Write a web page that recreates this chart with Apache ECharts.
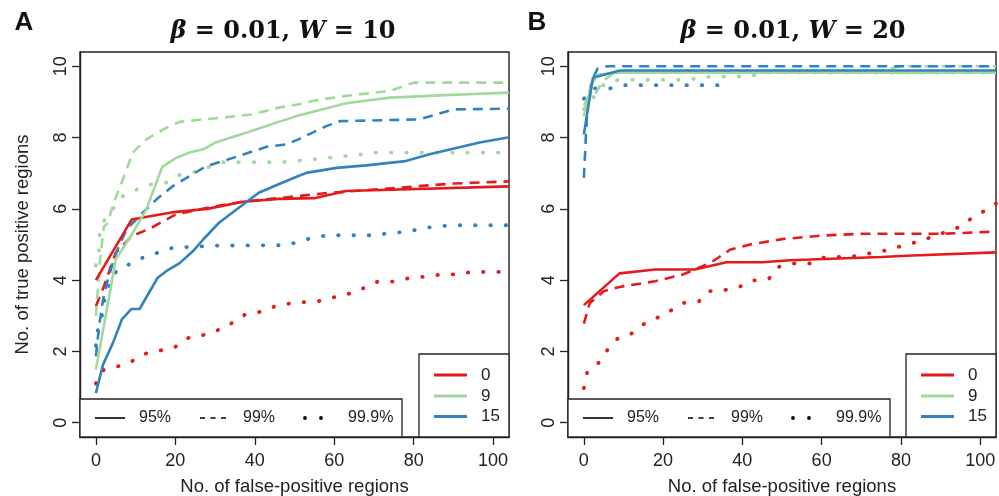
<!DOCTYPE html>
<html><head><meta charset="utf-8">
<script src="https://cdn.jsdelivr.net/npm/echarts@6/dist/echarts.min.js"></script>
<style>html,body{margin:0;padding:0;background:#fff}#c{width:999px;height:496px}</style>
</head><body><div id="c"></div>
<script>
// ---- data (x = No. of false-positive regions, y = No. of true positive regions)
const xTicks = [0, 20, 40, 60, 80, 100];
const yTicks = [0, 2, 4, 6, 8, 10];
const groups = ['0', '9', '15'];
const levels = ['95%', '99%', '99.9%'];
const titles = ['β = 0.01, W = 10', 'β = 0.01, W = 20'];

// Panel A
const A_red_95 = [[0,4.0],[9,5.7],[19,5.9],[28,6.0],[37,6.2],[46,6.28],[55,6.3],[63,6.5],[104,6.63]];
const A_red_99 = [[0,3.27],[2,3.82],[5,4.77],[9,5.23],[14,5.47],[20,5.84],[28,6.03],[37,6.2],[46,6.3],[57,6.43],[71,6.55],[90,6.71],[104,6.77]];
const A_red_999 = [[0,1.1],[2,1.49],[5.5,1.58],[9,1.72],[12.5,1.94],[16,2.02],[20,2.13],[23,2.37],[27,2.46],[31,2.61],[34,2.78],[37.5,3.03],[41,3.1],[45,3.26],[48.5,3.34],[53,3.39],[56,3.41],[60,3.52],[64,3.63],[67.5,3.78],[71,3.96],[75,3.96],[79,4.06],[83,4.1],[87,4.16],[91,4.16],[94.5,4.23],[104,4.23]];
const A_green_95 = [[0,1.49],[2.6,3.08],[5,4.58],[9.3,5.33],[12.7,5.98],[16.7,7.18],[20.2,7.43],[23.6,7.58],[27,7.67],[30.3,7.87],[38,8.14],[46,8.44],[51,8.62],[63,8.96],[74,9.12],[88,9.19],[104,9.26]];
const A_green_99 = [[0,3.0],[1,4.5],[2,5.5],[3,5.6],[4.2,6.08],[6.8,6.83],[9.3,7.58],[12.7,7.95],[17,8.23],[21,8.44],[27,8.51],[32,8.56],[39.5,8.65],[46,8.84],[51,8.93],[55,9.04],[63,9.17],[74,9.31],[80,9.54],[104,9.54]];
const A_green_999 = [[0,4.41],[0.8,4.84],[1,5.31],[2.2,5.7],[4.3,6.0],[6.8,6.36],[10,6.53],[14,6.69],[17.6,6.73],[21,6.95],[25,7.04],[32,7.31],[47,7.31],[63,7.48],[70.6,7.58],[104,7.58]];
const A_blue_95 = [[0,0.83],[1.8,1.63],[4.3,2.24],[6.6,2.91],[8.9,3.19],[11,3.19],[15.5,4.06],[17.7,4.25],[21,4.47],[24.4,4.81],[27,5.14],[31,5.61],[35.4,5.98],[41,6.45],[46,6.69],[51,6.92],[53,7.01],[60.6,7.15],[68,7.22],[78,7.34],[84,7.53],[96.6,7.86],[104,8.01]];
const A_blue_99 = [[0,1.86],[0.8,2.7],[1.8,3.45],[3,4.02],[5.1,4.77],[7.7,5.42],[11,5.8],[15.2,6.26],[19.4,6.64],[23.6,6.92],[27.8,7.2],[32,7.34],[43,7.74],[48,7.81],[51,7.95],[58,8.32],[61.4,8.46],[81.5,8.51],[90,8.79],[104,8.81]];
const A_blue_999 = [[0,2.16],[0.5,2.61],[1.6,3.03],[2.2,3.47],[3.5,3.9],[5.3,4.28],[8.5,4.45],[11.8,4.63],[15.6,4.77],[19.4,4.91],[31,4.97],[47,4.98],[50.7,5.06],[54.5,5.19],[58.5,5.26],[70.3,5.26],[74.3,5.33],[78.2,5.35],[82,5.45],[86,5.51],[90,5.54],[104,5.54]];

// Panel B
const B_red_95 = [[0,3.3],[9,4.19],[18,4.3],[28,4.3],[36,4.5],[45,4.5],[52,4.56],[75,4.65],[83,4.69],[104,4.78]];
const B_red_99 = [[0,2.78],[1.5,3.36],[5,3.69],[9,3.81],[18,3.97],[25,4.16],[27.6,4.28],[32,4.49],[37,4.86],[42,5.0],[50,5.15],[60,5.25],[70,5.3],[90,5.3],[104,5.36]];
const B_red_999 = [[0,0.97],[0.8,1.4],[3.8,1.69],[6,2.05],[8.4,2.35],[12,2.5],[15,2.76],[18.6,2.95],[22,3.15],[25,3.36],[29,3.4],[31.6,3.69],[35.4,3.72],[39,3.8],[42.7,3.99],[46.7,4.04],[49,4.37],[53,4.47],[57,4.47],[60.4,4.63],[64.4,4.65],[68,4.67],[72,4.75],[76,4.83],[80,4.95],[85,5.1],[90,5.3],[95,5.5],[98,5.75],[102,6.0],[104,6.15]];
const B_green_95 = [[0,8.6],[1,9.1],[2,9.5],[3.3,9.76],[9,9.82],[104,9.82]];
const B_green_99 = [[0,8.9],[1,9.1],[3,9.25],[5,9.6],[8,9.85],[75,9.88],[80,10.0],[104,10.0]];
const B_green_999 = [[0,8.8],[3,9.2],[5.4,9.54],[9,9.62],[27,9.62],[29,9.7],[42,9.72],[45,9.82],[104,9.82]];
const B_blue_95 = [[0,8.09],[2.3,9.68],[9,9.88],[104,9.88]];
const B_blue_99 = [[0,6.87],[0.5,8.0],[1,9.0],[2,9.6],[3.5,9.94],[6,10.0],[104,10.0]];
const B_blue_999 = [[0,9.09],[2.7,9.38],[6.6,9.38],[10.4,9.47],[35,9.47]];

// ---- styling
const COL = ['#e41a1c', '#a1d99b', '#3182bd'];
const FONT = 'Liberation Sans, Arial, sans-serif';
const grids = [
  {left: 80, top: 52, width: 429, height: 385},
  {left: 568, top: 52, width: 428, height: 385}
];
function lineStyleFor(lv, color) {
  if (lv === 0) return {color, width: 2.6, type: 'solid'};
  if (lv === 1) return {color, width: 2.6, type: [10, 7], cap: 'butt'};
  return {color, width: 3.8, type: [0.5, 14.8], cap: 'round'};
}
const panels = [
  [[A_red_95, A_red_99, A_red_999], [A_green_95, A_green_99, A_green_999], [A_blue_95, A_blue_99, A_blue_999]],
  [[B_red_95, B_red_99, B_red_999], [B_green_95, B_green_99, B_green_999], [B_blue_95, B_blue_99, B_blue_999]]
];
const series = [];
panels.forEach((p, gi) => {
  [2, 1, 0].forEach(lv => {
    p.forEach((g, ci) => {
      series.push({
        type: 'line', name: groups[ci] + ' ' + levels[lv], data: g[lv],
        xAxisIndex: gi, yAxisIndex: gi, symbol: 'none', silent: true,
        lineStyle: lineStyleFor(lv, COL[ci]), z: 2
      });
    });
  });
});

const AX_LINE = {show: true, onZero: false, lineStyle: {color: '#222', width: 1.4}};
const xAxes = grids.map((g, i) => ({
  gridIndex: i, type: 'value', min: -4, max: 104, position: 'bottom',
  axisLine: AX_LINE, splitLine: {show: false},
  axisTick: {show: true, inside: false, length: 8, customValues: xTicks, lineStyle: {color: '#222', width: 1.3}},
  axisLabel: {customValues: xTicks, fontSize: 18, color: '#222', fontFamily: FONT, margin: 15},
  name: 'No. of false-positive regions', nameLocation: 'middle', nameGap: 40,
  nameTextStyle: {fontSize: 18.5, color: '#222', fontFamily: FONT}
}));
const yAxes = grids.map((g, i) => ({
  gridIndex: i, type: 'value', min: -0.4, max: 10.4, position: 'left',
  axisLine: AX_LINE, splitLine: {show: false},
  axisTick: {show: true, inside: false, length: 8, customValues: yTicks, lineStyle: {color: '#222', width: 1.3}},
  axisLabel: {customValues: yTicks, fontSize: 18, color: '#222', fontFamily: FONT, margin: 10, rotate: 90},
  name: i === 0 ? 'No. of true positive regions' : '', nameLocation: 'middle', nameGap: 48,
  nameTextStyle: {fontSize: 18.5, color: '#222', fontFamily: FONT}
}));

// legends (drawn as graphics with white background, like R's legend())
const graphic = [];
function legendBoxes(gx, gw) {
  const right = gx + gw, bottom = 437;
  const ltRight = gx + 322;
  graphic.push({type: 'rect', z: 100, shape: {x: gx, y: 399, width: ltRight - gx, height: bottom - 399},
    style: {fill: '#fff', stroke: '#222', lineWidth: 1.3}});
  const cy = 418;
  graphic.push({type: 'line', z: 101, shape: {x1: gx + 15, y1: cy, x2: gx + 45, y2: cy}, style: {stroke: '#000', lineWidth: 1.6}});
  graphic.push({type: 'text', z: 101, x: gx + 59, y: cy, style: {text: levels[0], font: '16px ' + FONT, fill: '#222', verticalAlign: 'middle'}});
  graphic.push({type: 'line', z: 101, shape: {x1: gx + 120, y1: cy, x2: gx + 150, y2: cy}, style: {stroke: '#000', lineWidth: 1.6, lineDash: [5, 5.5]}});
  graphic.push({type: 'text', z: 101, x: gx + 163, y: cy, style: {text: levels[1], font: '16px ' + FONT, fill: '#222', verticalAlign: 'middle'}});
  graphic.push({type: 'circle', z: 101, shape: {cx: gx + 225, cy: cy, r: 1.9}, style: {fill: '#000'}});
  graphic.push({type: 'circle', z: 101, shape: {cx: gx + 241, cy: cy, r: 1.9}, style: {fill: '#000'}});
  graphic.push({type: 'text', z: 101, x: gx + 268, y: cy, style: {text: levels[2], font: '16px ' + FONT, fill: '#222', verticalAlign: 'middle'}});
  const cl = right - 90;
  graphic.push({type: 'rect', z: 100, shape: {x: cl, y: 354, width: right - cl, height: bottom - 354},
    style: {fill: '#fff', stroke: '#222', lineWidth: 1.3}});
  [375, 396, 416.5].forEach((yy, k) => {
    graphic.push({type: 'line', z: 101, shape: {x1: cl + 15, y1: yy, x2: cl + 48, y2: yy}, style: {stroke: COL[k], lineWidth: 3}});
    graphic.push({type: 'text', z: 101, x: cl + 62, y: yy, style: {text: groups[k], font: '17px ' + FONT, fill: '#222', verticalAlign: 'middle'}});
  });
}
legendBoxes(80, 429);
legendBoxes(568, 428);

// titles and panel letters
[[283, 'A', 24], [793, 'B', 537]].forEach(([cx, letter, lx], i) => {
  const parts = titles[i].split(/(β|W)/).filter(s => s.length);
  const rt = parts.map(s => (s === 'β' || s === 'W') ? '{i|' + s + '}' : '{b|' + s + '}').join('');
  graphic.push({type: 'text', z: 101, x: cx, y: 32, style: {
    text: rt, align: 'center', verticalAlign: 'middle',
    rich: {
      i: {fontFamily: 'DejaVu Serif', fontWeight: 'bold', fontStyle: 'italic', fontSize: 24, fill: '#111'},
      b: {fontFamily: 'DejaVu Serif', fontWeight: 'bold', fontSize: 24, fill: '#111'}
    }}});
  graphic.push({type: 'text', z: 101, x: lx, y: 23, style: {text: letter, font: 'bold 26px ' + FONT, fill: '#111', align: 'center', verticalAlign: 'middle'}});
});

const chart = echarts.init(document.getElementById('c'), null, {renderer: 'canvas'});
chart.setOption({
  animation: false,
  backgroundColor: '#fff',
  grid: grids.map(g => Object.assign({show: true, borderColor: '#222', borderWidth: 1.4, containLabel: false, outerBoundsMode: 'none'}, g)),
  xAxis: xAxes,
  yAxis: yAxes,
  series,
  graphic
});
</script></body></html>
